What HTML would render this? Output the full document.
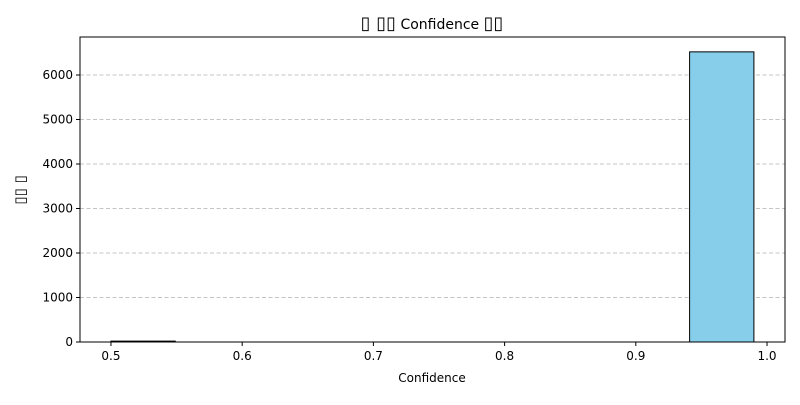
<!DOCTYPE html>
<html><head><meta charset="utf-8"><style>
body{margin:0;background:#fff;}
svg text{font-family:"DejaVu Sans","Liberation Sans",sans-serif;}
</style></head><body>
<svg id="chart" width="800" height="400" xmlns="http://www.w3.org/2000/svg">
<rect width="800" height="400" fill="#fff"/>
<g id="grid"></g>
<g id="bars"></g>
<g id="axes"></g>
<text x="432" y="29" font-size="14" text-anchor="middle"><tspan font-size="18">▯ ▯▯</tspan> Confidence <tspan font-size="18">▯▯</tspan></text>
<text x="432" y="382" font-size="12" text-anchor="middle">Confidence</text>
<text transform="translate(25,190) rotate(-90)" font-size="15" text-anchor="middle">▯▯ ▯</text>
</svg>
<script>
const binEdges=[0.5,0.549,0.598,0.647,0.696,0.745,0.794,0.843,0.892,0.941,0.99];
const counts=[20,0,0,0,0,0,0,0,0,6520];
const xTicks=[0.5,0.6,0.7,0.8,0.9,1.0];
const xTickLabels=["0.5","0.6","0.7","0.8","0.9","1.0"];
const yTicks=[0,1000,2000,3000,4000,5000,6000];
const L=80,R=785,T=37,B=342;
const xMin=0.4764,xMax=1.0137,yMax=6854;
const sx=v=>L+(v-xMin)/(xMax-xMin)*(R-L);
const sy=v=>B-v/yMax*(B-T);
const NS="http://www.w3.org/2000/svg";
function mk(tag,attrs,parent){const e=document.createElementNS(NS,tag);for(const k in attrs)e.setAttribute(k,attrs[k]);parent.appendChild(e);return e;}
const grid=document.getElementById('grid'),bars=document.getElementById('bars'),axes=document.getElementById('axes');
yTicks.forEach(t=>{
  const y=sy(t);
  if(t>0){const g=mk('line',{x1:L,x2:R,y1:y,y2:y,stroke:'#c4c4c4','stroke-width':1,'stroke-dasharray':'4,2.5'},grid);
  
  }
  const tk=mk('line',{x1:L-4,x2:L,y1:y,y2:y,stroke:'#000'},axes);
  
  
  const tx=mk('text',{x:L-7,y:y+4,'font-size':12,'text-anchor':'end'},axes);
  tx.textContent=t;
  
  
});
counts.forEach((c,i)=>{
  const x0=sx(binEdges[i]),x1=sx(binEdges[i+1]);
  const b=mk('rect',{x:x0,y:sy(c),width:x1-x0,height:B-sy(c),fill:'#87ceeb',stroke:'#000','stroke-width':1},bars);
  
  
});
xTicks.forEach((t,i)=>{
  const x=sx(t);
  const tk=mk('line',{x1:x,x2:x,y1:B,y2:B+4,stroke:'#000'},axes);
  
  
  const tx=mk('text',{x:x,y:B+18,'font-size':12,'text-anchor':'middle'},axes);
  tx.textContent=xTickLabels[i];
  
  
});
const fr=mk('rect',{x:L,y:T,width:R-L,height:B-T,fill:'none',stroke:'#000','stroke-width':1},axes);


</script>
</body></html>
